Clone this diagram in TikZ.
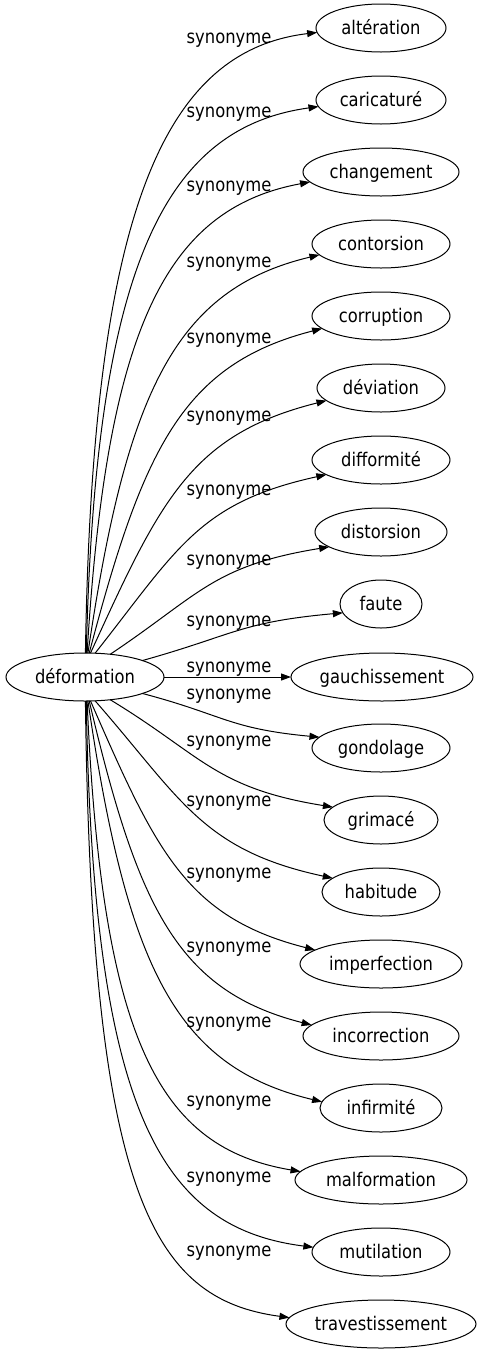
\documentclass[tikz,border=0pt]{standalone}
\usepackage{fontspec}
\setmainfont{DejaVu Sans}[FakeStretch=0.87]
\usetikzlibrary{shapes.geometric,arrows.meta,calc}
% #1 start angle on d, #2 target, #3 end angle on target, #4 slope, #5 cap
\newcommand\synedge[5]{%
 \draw[edge] let \p1=(d.#1), \p2=(#2.#3),
   \n1={abs((\y2)-(\y1))/((\x2)-(\x1))},
   \n2={max(0.03,0.23-0.2*(\n1-1.4))},
   \n3={min(#5,0.63+#4*(\n1-1.4))},
   \n4={max(0.325,0.40-0.075*(\n1-1.4))},
   \n5={max(0.03,0.11-0.074*(\n1-1.4))}
 in (\p1) .. controls ({\x1+\n2*((\x2)-(\x1))},{\y1+\n3*((\y2)-(\y1))}) and ({\x1+\n4*((\x2)-(\x1))},{\y2+\n5*((\y1)-(\y2))}) .. (\p2);}
\begin{document}
\begin{tikzpicture}[x=1pt,y=-1pt,
  word/.style={ellipse,draw,line width=1pt,inner sep=0pt,outer sep=0pt,minimum height=48pt,
    text height=13pt,text depth=0pt,font=\fontsize{18.8}{22}\selectfont},
  rel/.style={font=\fontsize{18.8}{22}\selectfont,inner sep=0pt,anchor=base},
  edge/.style={line width=1pt,-{Triangle[length=10pt,width=7pt]}}]
\path[use as bounding box,fill=white] (0,0) rectangle (481,1355);

\node[word,minimum width=158pt] (d) at (85,677) {déformation};

\node[word,minimum width=130pt] (t1) at (381,28) {altération};
\node[word,minimum width=130pt] (t2) at (381,100) {caricaturé};
\node[word,minimum width=156pt] (t3) at (381,172) {changement};
\node[word,minimum width=138pt] (t4) at (381,244) {contorsion};
\node[word,minimum width=138pt] (t5) at (381,316) {corruption};
\node[word,minimum width=128pt] (t6) at (381,388) {déviation};
\node[word,minimum width=138pt] (t7) at (381,460) {difformité};
\node[word,minimum width=132pt] (t8) at (381,532) {distorsion};
\node[word,minimum width=82pt] (t9) at (381,604) {faute};
\node[word,minimum width=182pt] (t10) at (382,677) {gauchissement};
\node[word,minimum width=138pt] (t11) at (381,748) {gondolage};
\node[word,minimum width=114pt] (t12) at (381,820) {grimacé};
\node[word,minimum width=118pt] (t13) at (381,892) {habitude};
\node[word,minimum width=162pt] (t14) at (381,964) {imperfection};
\node[word,minimum width=156pt] (t15) at (381,1036) {incorrection};
\node[word,minimum width=122pt] (t16) at (381,1108) {infirmité};
\node[word,minimum width=172pt] (t17) at (381,1180) {malformation};
\node[word,minimum width=138pt] (t18) at (381,1252) {mutilation};
\node[word,minimum width=190pt] (t19) at (381,1324) {travestissement};

\synedge{89}{t1}{184}{0.075}{0.70}
\synedge{87}{t2}{186}{0.075}{0.70}
\synedge{85}{t3}{188}{0.075}{0.70}
\synedge{83}{t4}{190}{0.075}{0.70}
\synedge{80}{t5}{192}{0.075}{0.70}
\synedge{77}{t6}{193}{0.075}{0.70}
\synedge{67}{t7}{195}{0.075}{0.70}
\synedge{42}{t8}{196}{0.075}{0.70}
\synedge{16}{t9}{193}{0.075}{0.70}
\draw[edge] (d.0) -- (t10.180);
\synedge{-16}{t11}{170}{0.12}{0.80}
\synedge{-42}{t12}{165}{0.12}{0.80}
\synedge{-67}{t13}{164}{0.12}{0.80}
\synedge{-77}{t14}{168}{0.12}{0.80}
\synedge{-80}{t15}{171}{0.12}{0.80}
\synedge{-83}{t16}{174}{0.12}{0.80}
\synedge{-85}{t17}{174}{0.12}{0.80}
\synedge{-87}{t18}{176}{0.12}{0.80}
\synedge{-89}{t19}{176}{0.12}{0.80}

\node[rel] (l1) at (229,43) {synonyme};
\node[rel] (l2) at (229,117) {synonyme};
\node[rel] (l3) at (229,191) {synonyme};
\node[rel] (l4) at (229,267) {synonyme};
\node[rel] (l5) at (229,343) {synonyme};
\node[rel] (l6) at (229,421) {synonyme};
\node[rel] (l7) at (229,495) {synonyme};
\node[rel] (l8) at (229,565) {synonyme};
\node[rel] (l9) at (229,626) {synonyme};
\node[rel] (l10) at (229,672) {synonyme};
\node[rel] (l11) at (229,699) {synonyme};
\node[rel] (l12) at (229,746) {synonyme};
\node[rel] (l13) at (229,806) {synonyme};
\node[rel] (l14) at (229,878) {synonyme};
\node[rel] (l15) at (229,952) {synonyme};
\node[rel] (l16) at (229,1027) {synonyme};
\node[rel] (l17) at (229,1106) {synonyme};
\node[rel] (l18) at (229,1182) {synonyme};
\node[rel] (l19) at (229,1256) {synonyme};
\end{tikzpicture}
\end{document}
